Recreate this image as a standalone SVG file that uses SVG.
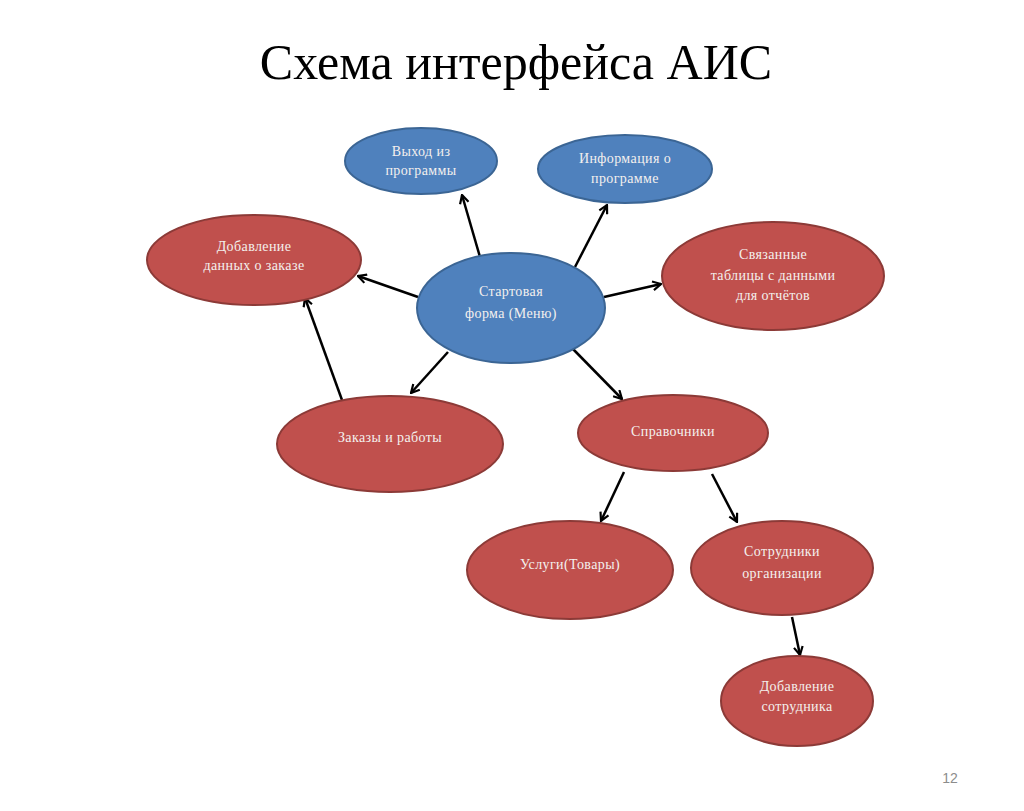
<svg xmlns="http://www.w3.org/2000/svg" width="1024" height="811" viewBox="0 0 1024 811">
<defs>
<marker id="ah" viewBox="0 0 10 10" refX="9" refY="5" markerWidth="11" markerHeight="11" orient="auto" markerUnits="userSpaceOnUse">
<path d="M1.5,1 L9,5 L1.5,9" fill="none" stroke="#000" stroke-width="2"/>
</marker>
<style>
.b{fill:#4f81bd;stroke:#3b6594;stroke-width:2}
.r{fill:#c0504d;stroke:#8c3a37;stroke-width:2}
.t{font-family:"Liberation Serif",serif;font-size:14px;letter-spacing:0.4px;fill:#f4f0ee;text-anchor:middle}
.c line{stroke:#000;stroke-width:2.5;marker-end:url(#ah)}
</style>
</defs>
<rect width="1024" height="811" fill="#fff"/>
<text x="516" y="79" font-family="Liberation Serif,serif" font-size="50" text-anchor="middle" fill="#000">Схема интерфейса АИС</text>
<g class="c">
<line x1="480" y1="257" x2="462" y2="195"/>
<line x1="575" y1="267" x2="607" y2="205"/>
<line x1="418" y1="297" x2="358" y2="276"/>
<line x1="604" y1="297" x2="661" y2="284"/>
<line x1="448" y1="352" x2="411" y2="393"/>
<line x1="572" y1="348" x2="622" y2="399"/>
<line x1="342" y1="400" x2="305" y2="298"/>
<line x1="624" y1="472" x2="601" y2="521"/>
<line x1="712" y1="474" x2="737" y2="522"/>
<line x1="792" y1="617" x2="800" y2="655"/>
</g>
<g id="exit"><ellipse class="b" cx="421" cy="161" rx="76" ry="33"/><text class="t" x="421" y="156">Выход из</text><text class="t" x="421" y="175">программы</text></g>
<g id="info"><ellipse class="b" cx="625" cy="169" rx="87" ry="34"/><text class="t" x="625" y="163">Информация о</text><text class="t" x="625" y="183">программе</text></g>
<g id="addorder"><ellipse class="r" cx="254" cy="260" rx="107" ry="45"/><text class="t" x="254" y="251">Добавление</text><text class="t" x="254" y="270">данных о заказе</text></g>
<g id="start"><ellipse class="b" cx="511" cy="308" rx="94" ry="55"/><text class="t" x="511" y="296">Стартовая</text><text class="t" x="511" y="318">форма (Меню)</text></g>
<g id="linked"><ellipse class="r" cx="773" cy="276" rx="111" ry="54"/><text class="t" x="773" y="259">Связанные</text><text class="t" x="773" y="280">таблицы с данными</text><text class="t" x="773" y="300">для отчётов</text></g>
<g id="orders"><ellipse class="r" cx="390" cy="444" rx="113" ry="48"/><text class="t" x="390" y="442">Заказы и работы</text></g>
<g id="refs"><ellipse class="r" cx="673" cy="433" rx="95" ry="38"/><text class="t" x="673" y="436">Справочники</text></g>
<g id="services"><ellipse class="r" cx="570" cy="570" rx="103" ry="49"/><text class="t" x="570" y="569">Услуги(Товары)</text></g>
<g id="staff"><ellipse class="r" cx="782" cy="568" rx="91" ry="47"/><text class="t" x="782" y="556">Сотрудники</text><text class="t" x="782" y="578">организации</text></g>
<g id="addstaff"><ellipse class="r" cx="797" cy="701" rx="76" ry="45"/><text class="t" x="797" y="691">Добавление</text><text class="t" x="797" y="711">сотрудника</text></g>
<text x="950" y="783" font-family="Liberation Sans,sans-serif" font-size="14" fill="#8c8c8c" text-anchor="middle">12</text>
</svg>
